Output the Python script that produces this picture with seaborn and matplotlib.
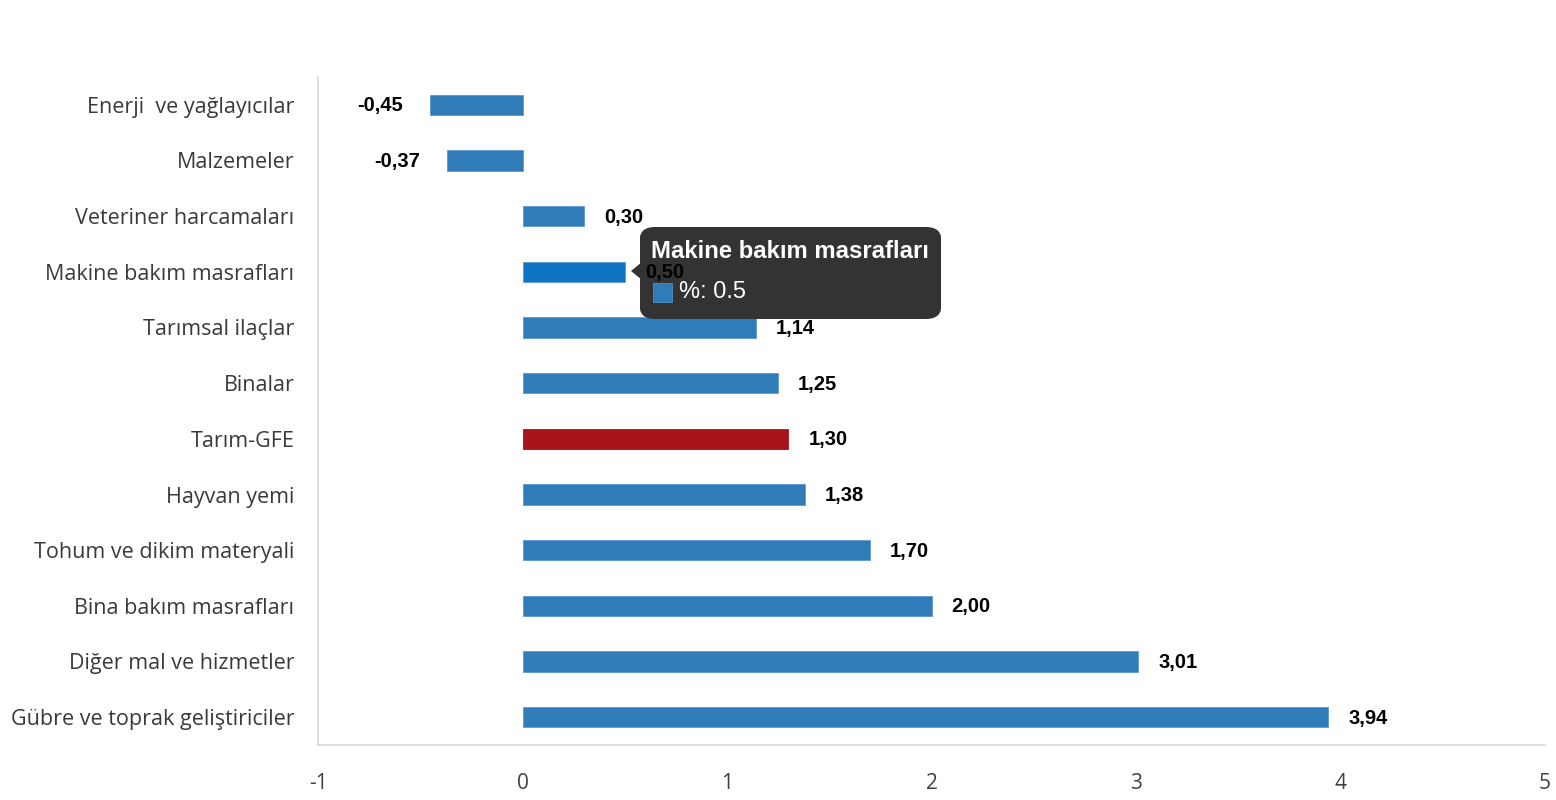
import matplotlib
matplotlib.use("Agg")
import matplotlib.pyplot as plt
from matplotlib.patches import FancyBboxPatch, Polygon, Rectangle
import seaborn as sns
import pandas as pd

categories = ["Enerji  ve yağlayıcılar", "Malzemeler", "Veteriner harcamaları",
              "Makine bakım masrafları", "Tarımsal ilaçlar", "Binalar", "Tarım-GFE",
              "Hayvan yemi", "Tohum ve dikim materyali", "Bina bakım masrafları",
              "Diğer mal ve hizmetler", "Gübre ve toprak geliştiriciler"]
values = [-0.45, -0.37, 0.30, 0.50, 1.14, 1.25, 1.30, 1.38, 1.70, 2.00, 3.01, 3.94]
xticks = [-1, 0, 1, 2, 3, 4, 5]
tooltip_title = "Makine bakım masrafları"
tooltip_text = "%: 0.5"

BLUE = "#2f7cb8"
RED = "#a9141b"
HOVER = "#1074c4"
colors = {c: (RED if c == "Tarım-GFE" else HOVER if c == tooltip_title else BLUE) for c in categories}

df = pd.DataFrame({"cat": categories, "val": values})

sns.set_theme(style="white")
plt.rcParams["font.family"] = ["Open Sans", "DejaVu Sans"]

fig = plt.figure(figsize=(15.56, 8), dpi=100)
ax = fig.add_axes([318/1556, 1-745/800, (1545-318)/1556, (745-77)/800])

sns.barplot(data=df, y="cat", x="val", hue="cat", palette=colors, orient="h",
            width=0.37, legend=False, ax=ax, saturation=1, edgecolor="#5a9bd0", linewidth=0.6)
for p, c in zip(ax.patches, categories):
    if c == "Tarım-GFE":
        p.set_edgecolor(RED)

ax.set_xlim(-1, 5)
ax.set_ylim(11.5, -0.5)
ax.set_xticks(xticks)
ax.set_xticklabels([str(t) for t in xticks], fontsize=15, color="#404040")
ax.tick_params(axis="x", length=0, pad=20)
ax.tick_params(axis="y", length=0, pad=17)
for lab in ax.get_yticklabels():
    lab.set_fontsize(15.5)
    lab.set_color("#3a3a3a")
ax.set_xlabel("")
ax.set_ylabel("")
for s in ["top", "right"]:
    ax.spines[s].set_visible(False)
for s in ["left", "bottom"]:
    ax.spines[s].set_color("#d9d9d9")
    ax.spines[s].set_linewidth(1.2)

# tooltip (drawn in the axes so that value labels can sit above it)
tx0, ty0, tx1, ty1 = 640, 227, 941, 319
def fig_xy(px, py):
    return px/1556, 1-py/800
box = FancyBboxPatch(fig_xy(tx0+6, ty1-6),
                     (tx1-tx0-12)/1556, (ty1-ty0-12)/800,
                     boxstyle="round,pad=0.0,rounding_size=0.006",
                     transform=fig.transFigure, facecolor="#333333", edgecolor="#333333",
                     linewidth=12*0.72, joinstyle="round", zorder=5, clip_on=False)
ax.add_artist(box)
tri = Polygon([fig_xy(631, 271), fig_xy(642, 262), fig_xy(642, 280)], closed=True,
              transform=fig.transFigure, facecolor="#333333", edgecolor="none", zorder=5,
              clip_on=False)
ax.add_artist(tri)
ax.text(651/1556, 1-251/800, tooltip_title, fontsize=17.2, fontweight="bold", color="white",
        family=["Liberation Sans", "DejaVu Sans"], va="center", ha="left", zorder=6,
        transform=fig.transFigure)
sq = Rectangle(fig_xy(653, 302), 19/1556, 19/800, transform=fig.transFigure,
               facecolor=BLUE, edgecolor="#5a9bd0", linewidth=0.5, zorder=6, clip_on=False)
ax.add_artist(sq)
ax.text(679/1556, 1-292/800, tooltip_text, fontsize=17, color="white",
        family=["Liberation Sans", "DejaVu Sans"], va="center", ha="left", zorder=6,
        transform=fig.transFigure)

# value labels
for i, v in enumerate(values):
    txt = f"{v:.2f}".replace(".", ",")
    if v >= 0:
        ax.annotate(txt, (v, i), xytext=(20, -1), textcoords="offset pixels",
                    ha="left", va="center", fontsize=14.5, fontweight="bold",
                    family=["Liberation Sans", "DejaVu Sans"], color="black",
                    zorder=10, annotation_clip=False)
    else:
        ax.annotate(txt, (v, i), xytext=(-27, -1), textcoords="offset pixels",
                    ha="right", va="center", fontsize=14.5, fontweight="bold",
                    family=["Liberation Sans", "DejaVu Sans"], color="black", zorder=10)

fig.savefig("out.png", dpi=100)
